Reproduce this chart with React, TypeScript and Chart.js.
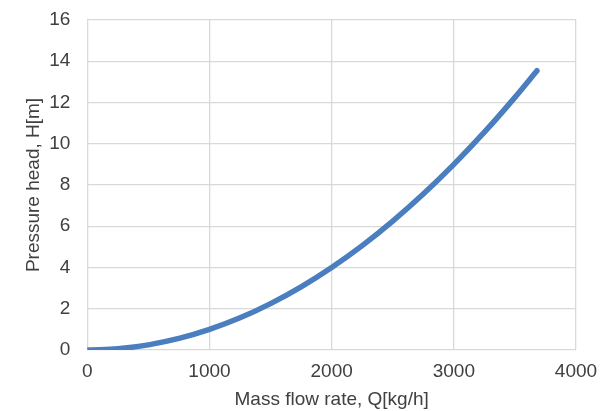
import React, { useEffect, useRef } from "react";
import { Chart, registerables } from "chart.js";

Chart.register(...registerables);

const flowRates = [0, 100, 250, 500, 750, 1000, 1250, 1500, 1750, 2000, 2250, 2500, 2750, 3000, 3250, 3500, 3680];
const heads = [0, 0.01, 0.06, 0.25, 0.56, 1.0, 1.56, 2.25, 3.06, 4.0, 5.06, 6.25, 7.56, 9.0, 10.56, 12.25, 13.54];
const xTitle = "Mass flow rate, Q[kg/h]";
const yTitle = "Pressure head, H[m]";

export default function App() {
  const ref = useRef<HTMLCanvasElement | null>(null);
  useEffect(() => {
    document.body.style.margin = "0";
    const ctx = ref.current!;
    const font = { family: "'Liberation Sans', Arial, sans-serif", size: 19 };
    const chart = new Chart(ctx, {
      type: "line",
      data: {
        datasets: [
          {
            data: flowRates.map((q, i) => ({ x: q, y: heads[i] })),
            borderColor: "#4a7ebf",
            borderWidth: 5.5,
            borderCapStyle: "round",
            borderJoinStyle: "round",
            pointRadius: 0,
            cubicInterpolationMode: "monotone",
            fill: false,
          },
        ],
      },
      options: {
        responsive: false,
        animation: false,
        layout: { padding: { left: 22, right: 31, top: 20, bottom: 0 } },
        plugins: { legend: { display: false }, tooltip: { enabled: false } },
        scales: {
          x: {
            type: "linear",
            min: 0,
            max: 4000,
            ticks: { stepSize: 1000, font, color: "#404040", padding: 10, maxRotation: 0, callback: (v: any) => String(v) },
            grid: { color: "#d9d9d9", lineWidth: 1.3, drawTicks: false },
            border: { display: false },
            title: { display: true, text: xTitle, font, color: "#404040", padding: 0 },
            afterFit: (s: any) => { s.height = 61; s.paddingLeft = 0; s.paddingRight = 0; },
          },
          y: {
            min: 0,
            max: 16,
            ticks: { stepSize: 2, font, color: "#404040", padding: 17 },
            grid: { color: "#d9d9d9", lineWidth: 1.3, drawTicks: false },
            border: { display: false },
            title: { display: true, text: yTitle, font, color: "#404040", padding: 0 },
            afterFit: (s: any) => { s.width = 65.3; s.paddingTop = 0; s.paddingBottom = 0; },
          },
        },
      },
    });
    return () => chart.destroy();
  }, []);
  return (
    <div style={{ position: "absolute", left: 0, top: 0, width: 607, height: 411, background: "#fff" }}>
      <canvas ref={ref} width={607} height={411} />
    </div>
  );
}
